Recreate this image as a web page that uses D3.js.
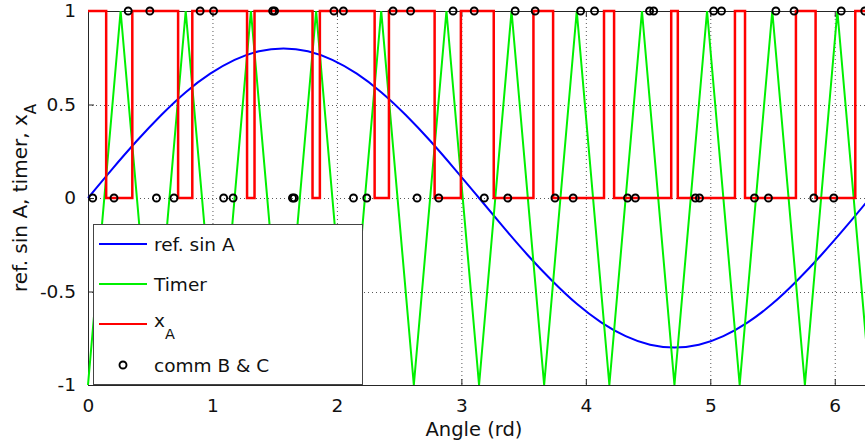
<!DOCTYPE html>
<html>
<head>
<meta charset="utf-8">
<script src="https://cdn.jsdelivr.net/npm/d3@7"></script>
<style>
  html, body { margin: 0; padding: 0; background: #fff; }
  svg { display: block; font-family: "DejaVu Sans", sans-serif; }
</style>
</head>
<body>
<svg id="chart" width="865" height="445"></svg>
<script>
// Reference sine of phase A (sampled every pi/16)
const sineAngle = [0, 0.196, 0.393, 0.589, 0.785, 0.982, 1.178, 1.374, 1.571, 1.767, 1.963, 2.160,
  2.356, 2.553, 2.749, 2.945, 3.142, 3.338, 3.534, 3.731, 3.927, 4.123, 4.320, 4.516, 4.712,
  4.909, 5.105, 5.301, 5.498, 5.694, 5.890, 6.087, 6.283];
const sineValue = [0, 0.156, 0.306, 0.444, 0.566, 0.665, 0.739, 0.785, 0.8, 0.785, 0.739, 0.665,
  0.566, 0.444, 0.306, 0.156, 0, -0.156, -0.306, -0.444, -0.566, -0.665, -0.739, -0.785, -0.8,
  -0.785, -0.739, -0.665, -0.566, -0.444, -0.306, -0.156, 0];

// Triangular carrier (timer) vertices
const timerAngle = [0, 0.262, 0.524, 0.785, 1.047, 1.309, 1.571, 1.833, 2.094, 2.356, 2.618, 2.880,
  3.142, 3.403, 3.665, 3.927, 4.189, 4.451, 4.712, 4.974, 5.236, 5.498, 5.760, 6.021, 6.283];
const timerValue = [-1, 1, -1, 1, -1, 1, -1, 1, -1, 1, -1, 1, -1, 1, -1, 1, -1, 1, -1, 1, -1, 1, -1, 1, -1];

// PWM output of phase A: switching angles and the state held after each
const xAAngle = [0, 0.146, 0.356, 0.724, 0.838, 1.278, 1.338, 1.804, 1.863, 2.303, 2.418, 2.785,
  2.996, 3.260, 3.579, 3.737, 4.146, 4.227, 4.686, 4.739, 5.198, 5.279, 5.688, 5.846, 6.165, 6.283];
const xAState = [1, 0, 1, 0, 1, 0, 1, 0, 1, 0, 1, 0, 1, 0, 1, 0, 1, 0, 1, 0, 1, 0, 1, 0, 1, 1];

// Switching instants of phases B and C (turn-on at level 1, turn-off at level 0)
const commOnAngle = [0.323, 0.497, 0.901, 1.009, 1.484, 1.499, 1.976, 2.052, 2.451, 2.592, 2.933, 3.103,
  3.432, 3.593, 3.958, 4.070, 4.512, 4.545, 5.027, 5.090, 5.527, 5.673, 6.052, 6.241];
const commOffAngle = [0.038, 0.209, 0.550, 0.691, 1.090, 1.166, 1.643, 1.657, 2.133, 2.240, 2.644, 2.818,
  3.184, 3.373, 3.752, 3.898, 4.335, 4.398, 4.880, 4.913, 5.355, 5.467, 5.832, 5.992];

const xTicks = [0, 1, 2, 3, 4, 5, 6];
const yTicks = [-1, -0.5, 0, 0.5, 1];
const yTickLabels = ["-1", "-0.5", "0", "0.5", "1"];

const svg = d3.select("#chart");
const plotLeft = 88, plotRight = 870, plotTop = 11, plotBottom = 385;

const x = d3.scaleLinear().domain([0, 2 * Math.PI]).range([plotLeft, plotRight]);
const y = d3.scaleLinear().domain([-1, 1]).range([plotBottom, plotTop]);

// Dotted grid
const grid = svg.append("g").attr("stroke", "#222").attr("stroke-width", 1)
  .attr("stroke-dasharray", "1,3").attr("opacity", 0.75);
grid.selectAll("line.gx").data(xTicks.filter(d => d > 0)).join("line")
  .attr("x1", d => x(d) + 0.5).attr("x2", d => x(d) + 0.5).attr("y1", plotTop).attr("y2", plotBottom);
grid.selectAll("line.gy").data(yTicks.filter(d => d > -1 && d < 1)).join("line")
  .attr("y1", d => Math.round(y(d)) + 0.5).attr("y2", d => Math.round(y(d)) + 0.5)
  .attr("x1", plotLeft).attr("x2", plotRight);

// Axes (ticks pointing inward, labels outside)
const fontSize = 18.5;
const xAxis = d3.axisBottom(x).tickValues(xTicks).tickSize(-6).tickPadding(14).tickFormat(d3.format("d"));
const gx = svg.append("g").attr("transform", `translate(0,${plotBottom})`).call(xAxis);
const xAxisTop = d3.axisTop(x).tickValues(xTicks).tickSize(-6).tickFormat("");
const gxt = svg.append("g").attr("transform", `translate(0,${plotTop})`).call(xAxisTop);
const yAxis = d3.axisLeft(y).tickValues(yTicks).tickSize(-6).tickPadding(12)
  .tickFormat((d, i) => yTickLabels[i]);
const gy = svg.append("g").attr("transform", `translate(${plotLeft},0)`).call(yAxis);
[gx, gxt, gy].forEach(g => {
  g.select(".domain").attr("stroke", "#262626").attr("stroke-width", 1);
  g.selectAll(".tick line").attr("stroke", "#262626");
  g.selectAll(".tick text").attr("font-size", fontSize).attr("fill", "#111")
    .attr("font-family", "DejaVu Sans, sans-serif");
});

// Series
const sinLine = d3.line().x((d, i) => x(sineAngle[i])).y(d => y(d)).curve(d3.curveNatural);
svg.append("path").datum(sineValue).attr("d", sinLine)
  .attr("fill", "none").attr("stroke", "#0000ff").attr("stroke-width", 2);

const timerLine = d3.line().x((d, i) => x(timerAngle[i])).y(d => y(d));
svg.append("path").datum(timerValue).attr("d", timerLine)
  .attr("fill", "none").attr("stroke", "#00f000").attr("stroke-width", 2);

const xALine = d3.line().x((d, i) => x(xAAngle[i])).y(d => y(d)).curve(d3.curveStepAfter);
svg.append("path").datum(xAState).attr("d", xALine)
  .attr("fill", "none").attr("stroke", "#ff0000").attr("stroke-width", 2.5);

const comm = svg.append("g").attr("fill", "none").attr("stroke", "#000").attr("stroke-width", 1.9);
comm.selectAll("circle.on").data(commOnAngle).join("circle")
  .attr("cx", d => x(d)).attr("cy", y(1)).attr("r", 3.5);
comm.selectAll("circle.off").data(commOffAngle).join("circle")
  .attr("cx", d => x(d)).attr("cy", y(0)).attr("r", 3.5);

// Axis labels
svg.append("text").attr("x", 474).attr("y", 436).attr("text-anchor", "middle")
  .attr("font-size", 19.5).attr("fill", "#111").text("Angle (rd)");

const yl = svg.append("text").attr("transform", `translate(27,${(plotTop + plotBottom) / 2}) rotate(-90)`)
  .attr("text-anchor", "middle").attr("font-size", 20).attr("fill", "#111");
yl.append("tspan").text("ref. sin A, timer, x");
yl.append("tspan").attr("dy", 9).attr("font-size", 15).text("A");

// Legend
const legendItems = [
  { name: "ref. sin A", color: "#0000ff", kind: "line" },
  { name: "Timer", color: "#00f000", kind: "line" },
  { name: "x", sub: "A", color: "#ff0000", kind: "line" },
  { name: "comm B & C", color: "#000", kind: "marker" }
];
const lg = svg.append("g");
lg.append("rect").attr("x", 93.5).attr("y", 224.5).attr("width", 269).attr("height", 160)
  .attr("fill", "#fff").attr("stroke", "#444").attr("stroke-width", 1);
const rowY = [244, 284, 324, 365];
legendItems.forEach((d, i) => {
  const ry = rowY[i];
  if (d.kind === "line") {
    lg.append("line").attr("x1", 99).attr("x2", 147).attr("y1", ry).attr("y2", ry)
      .attr("stroke", d.color).attr("stroke-width", 2);
  } else {
    lg.append("circle").attr("cx", 123).attr("cy", ry).attr("r", 3.5)
      .attr("fill", "none").attr("stroke", d.color).attr("stroke-width", 1.9);
  }
  const t = lg.append("text").attr("x", 154).attr("font-size", fontSize).attr("fill", "#111");
  if (d.sub) {
    t.attr("y", ry + 3);
    t.append("tspan").text(d.name);
    t.append("tspan").attr("dy", 12).attr("font-size", 14.5).text(d.sub);
  } else {
    t.attr("y", ry + 7).text(d.name);
  }
});
</script>
</body>
</html>
